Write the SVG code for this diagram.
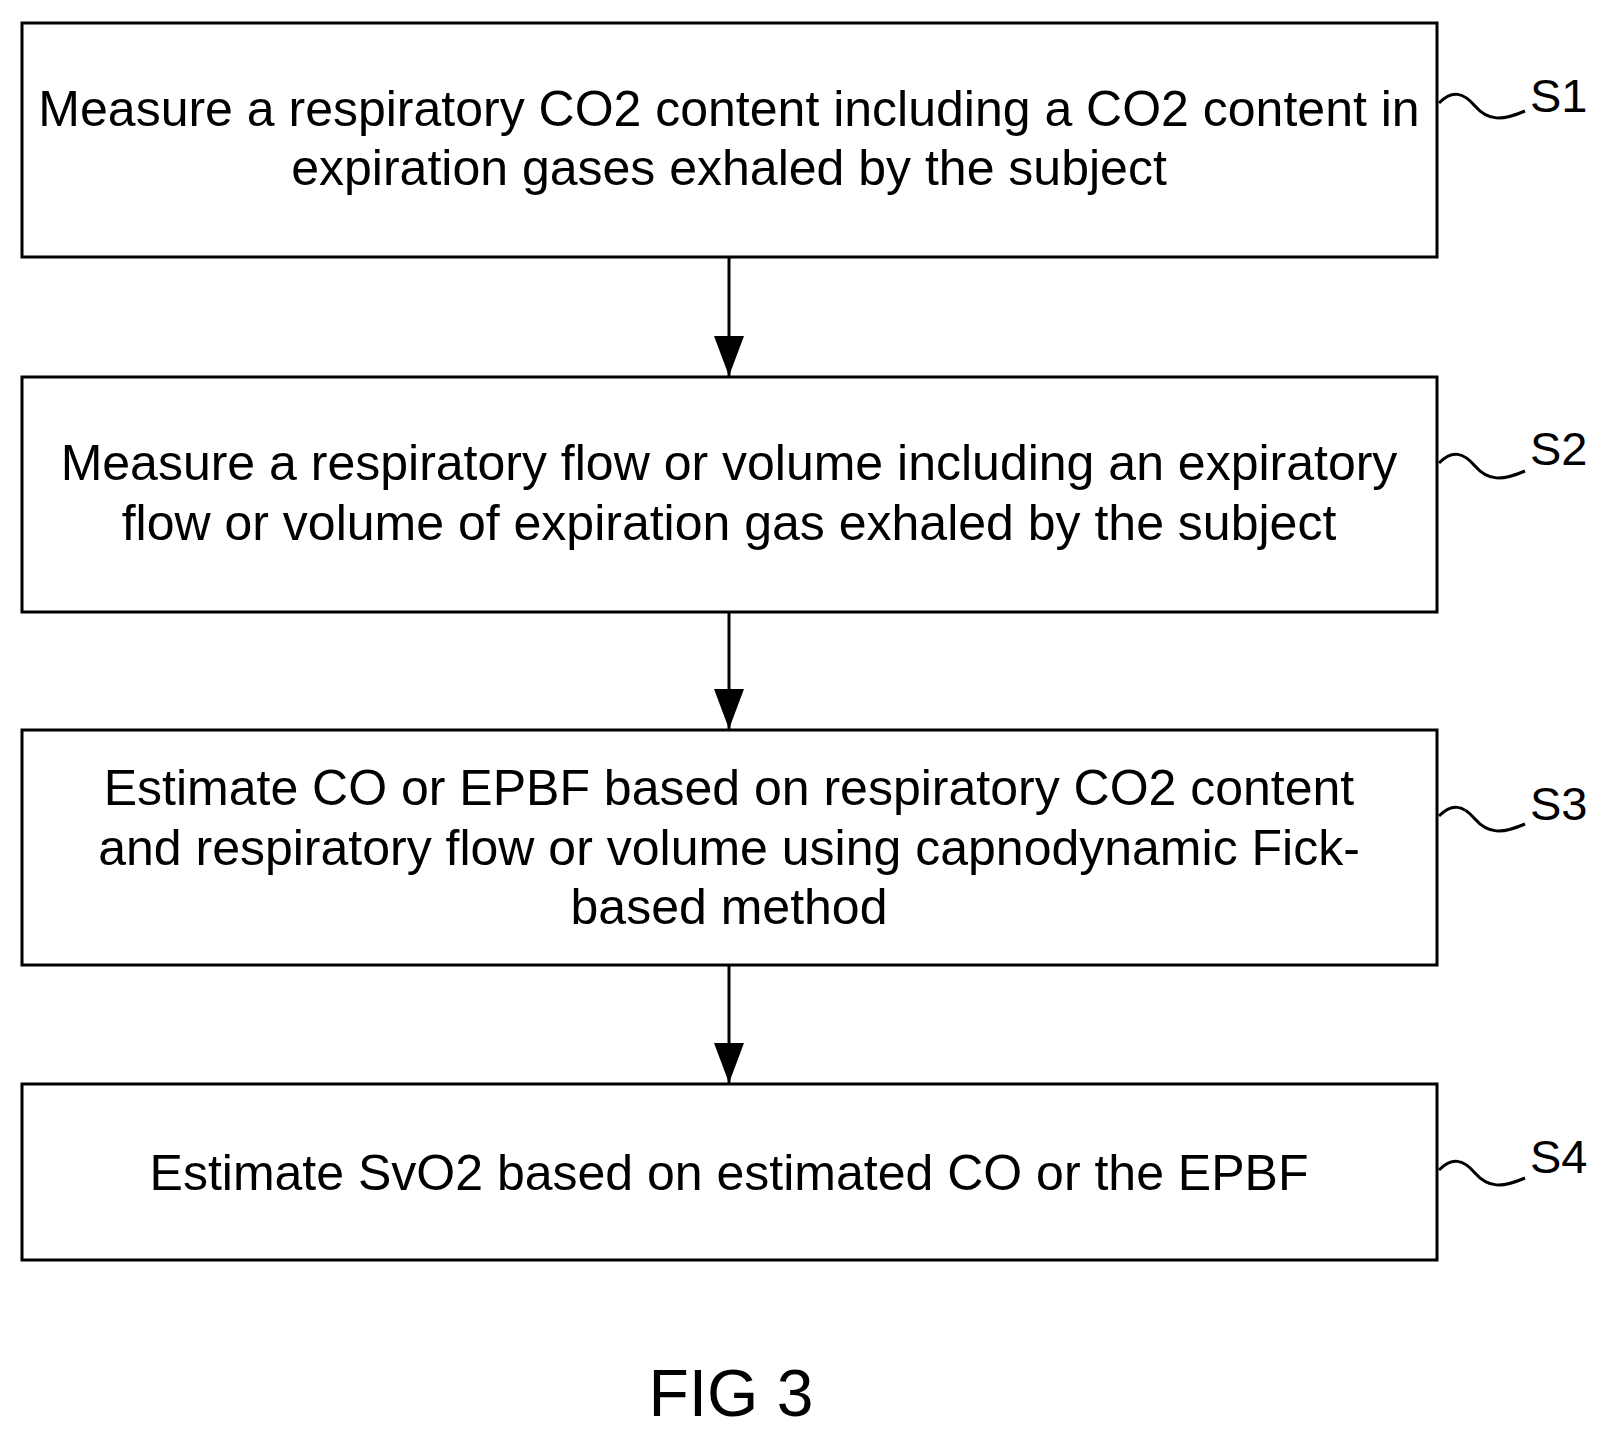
<svg xmlns="http://www.w3.org/2000/svg" width="1605" height="1436" viewBox="0 0 1605 1436">
<style>
.box{fill:#fff;stroke:#000;stroke-width:3}
.t{font-family:"Liberation Sans",Arial,sans-serif;font-size:50px;text-anchor:middle;fill:#000}
.lbl{font-family:"Liberation Sans",Arial,sans-serif;font-size:47px;fill:#000}
.sq{fill:none;stroke:#000;stroke-width:3}
.c{stroke:#000;stroke-width:3;fill:none}
</style>
<defs>
<marker id="ah" viewBox="0 0 40 30" refX="40" refY="15" markerWidth="40" markerHeight="30" orient="auto" markerUnits="userSpaceOnUse"><path d="M0,0 L40,15 L0,30 z" fill="#000"/></marker></defs>
<rect width="1605" height="1436" fill="#fff"/>
<g id="s1"><rect class="box" x="22" y="23" width="1415" height="234"/>
<text class="t" x="729" y="126">Measure a respiratory CO2 content including a CO2 content in</text>
<text class="t" x="729" y="185">expiration gases exhaled by the subject</text>
<path class="sq" d="M1439,103 C1452,90 1463,92 1475,106 C1488,121 1502,121 1525,111"/>
<text class="lbl" x="1530" y="112">S1</text></g>
<g id="s2"><rect class="box" x="22" y="377" width="1415" height="235"/>
<text class="t" x="729" y="480">Measure a respiratory flow or volume including an expiratory</text>
<text class="t" x="729" y="540">flow or volume of expiration gas exhaled by the subject</text>
<path class="sq" d="M1439,463 C1452,450 1463,452 1475,466 C1488,481 1502,481 1525,471"/>
<text class="lbl" x="1530" y="465">S2</text></g>
<g id="s3"><rect class="box" x="22" y="730" width="1415" height="235"/>
<text class="t" x="729" y="805">Estimate CO or EPBF based on respiratory CO2 content</text>
<text class="t" x="729" y="865">and respiratory flow or volume using capnodynamic Fick-</text>
<text class="t" x="729" y="924">based method</text>
<path class="sq" d="M1439,816 C1452,803 1463,805 1475,819 C1488,834 1502,834 1525,824"/>
<text class="lbl" x="1530" y="820">S3</text></g>
<g id="s4"><rect class="box" x="22" y="1084" width="1415" height="176"/>
<text class="t" x="729" y="1190">Estimate SvO2 based on estimated CO or the EPBF</text>
<path class="sq" d="M1439,1170 C1452,1157 1463,1159 1475,1173 C1488,1188 1502,1188 1525,1178"/>
<text class="lbl" x="1530" y="1173">S4</text></g>
<g id="connectors">
<line class="c" x1="729" y1="257" x2="729" y2="376" marker-end="url(#ah)"/>
<line class="c" x1="729" y1="612" x2="729" y2="729" marker-end="url(#ah)"/>
<line class="c" x1="729" y1="965" x2="729" y2="1083" marker-end="url(#ah)"/>
</g>
<text class="t" x="731" y="1416" style="font-size:66px">FIG 3</text>
</svg>
